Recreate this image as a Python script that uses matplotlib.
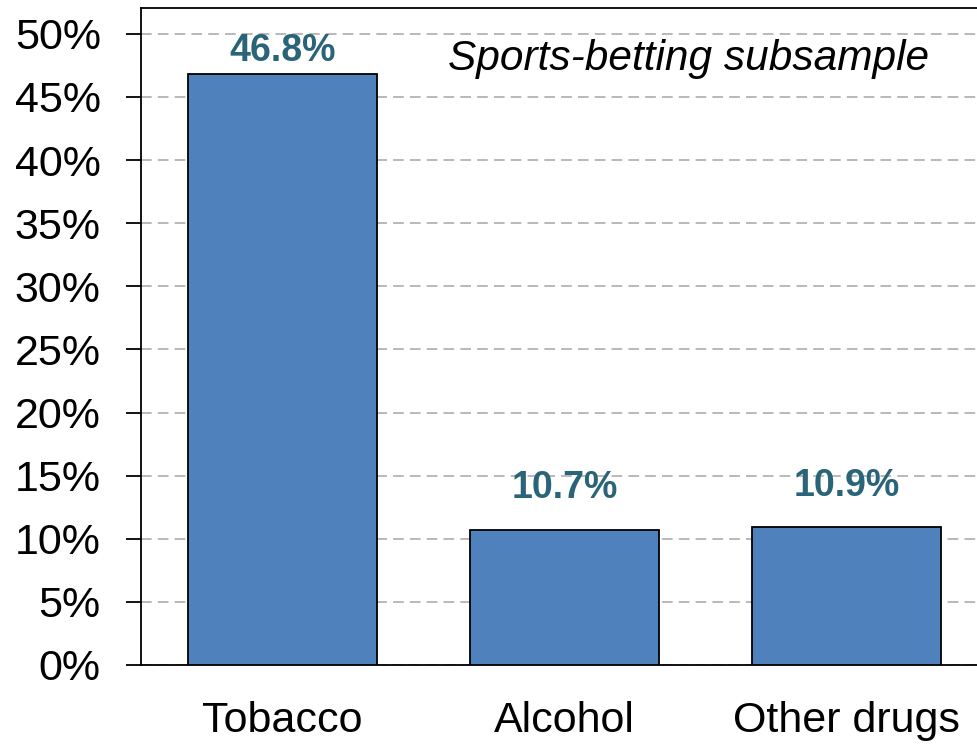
import matplotlib
matplotlib.use("Agg")
import matplotlib.pyplot as plt
from matplotlib.ticker import FuncFormatter, MultipleLocator

# data
categories = ["Tobacco", "Alcohol", "Other drugs"]
shares = [46.8, 10.7, 10.9]
value_labels = ["46.8%", "10.7%", "10.9%"]
panel_note = "Sports-betting subsample"

BAR_COLOR = "#4F81BD"
LABEL_COLOR = "#2A6478"
GRID_COLOR = "#A6A6A6"
label_offsets_pt = [4, 17, 17]   # the top bar's label sits closer to its bar

plt.rcParams.update({
    "font.family": ["Liberation Sans", "DejaVu Sans"],
    "axes.linewidth": 1.3,
})

fig = plt.figure(figsize=(9.77, 7.45), dpi=100)
W, H = 977, 745
ax = fig.add_axes([141 / W, (H - 665) / H, (988 - 141) / W, (665 - 8) / H])

x = range(len(categories))
bars = ax.bar(x, shares, width=0.67, color=BAR_COLOR, edgecolor="black",
              linewidth=1.3, zorder=3)

for rect, txt, off in zip(bars, value_labels, label_offsets_pt):
    ax.annotate(txt, (rect.get_x() + rect.get_width() / 2, rect.get_height()),
                xytext=(0, off), textcoords="offset points", ha="center", va="bottom",
                fontsize=27, fontweight="bold", color=LABEL_COLOR,
                family=["Liberation Sans Narrow", "Liberation Sans", "DejaVu Sans"],
                zorder=4)

ax.text(0.363, 0.922, panel_note, transform=ax.transAxes, ha="left", va="center",
        fontsize=30.5, fontstyle="italic", zorder=4)

ax.set_xlim(-0.5, 2.5)
ax.set_ylim(0, 52.05)
ax.yaxis.set_major_locator(MultipleLocator(5))
ax.yaxis.set_major_formatter(FuncFormatter(lambda v, _: f"{v:.0f}%"))
ax.set_xticks(list(x))
ax.set_xticklabels(categories)

ax.tick_params(axis="y", length=11, width=1.3, pad=18, labelsize=31)
ax.tick_params(axis="x", length=0, pad=26, labelsize=31)
ax.yaxis.grid(True, linestyle=(0, (7, 4)), color=GRID_COLOR, linewidth=1.1, zorder=0)
ax.set_axisbelow(True)
ax.spines["right"].set_visible(False)

fig.savefig("out.png", dpi=100)
